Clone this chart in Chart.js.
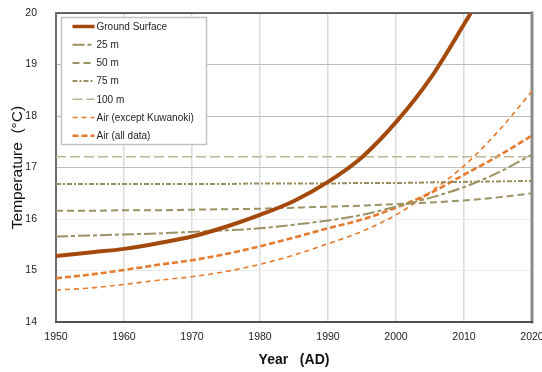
<!DOCTYPE html>
<html>
<head>
<meta charset="utf-8">
<script src="https://cdn.jsdelivr.net/npm/chart.js@4.4.1/dist/chart.umd.min.js"></script>
<style>
  html, body { margin: 0; padding: 0; background: #ffffff; }
  #wrap { width: 542px; height: 372px; }
</style>
</head>
<body>
<div id="wrap"><canvas id="chart" width="542" height="372"></canvas></div>
<script>
// Years shared by the subsurface and air series
const years = [1950, 1955, 1960, 1965, 1970, 1975, 1980, 1985, 1990, 1995, 2000, 2005, 2010, 2015, 2020];

// Ground surface temperature reaches the 20 °C ceiling around 2011
const groundYears   = [1950, 1955, 1960, 1965, 1970, 1975, 1980, 1985, 1990, 1995, 2000, 2005, 2010, 2011];
const groundSurface = [15.28, 15.35, 15.42, 15.53, 15.66, 15.85, 16.08, 16.35, 16.72, 17.20, 17.88, 18.72, 19.78, 20.00];

// Subsurface temperatures by depth (°C)
const depth25  = [15.66, 15.68, 15.70, 15.72, 15.75, 15.78, 15.82, 15.89, 15.97, 16.08, 16.24, 16.41, 16.62, 16.90, 17.25];
const depth50  = [16.16, 16.16, 16.17, 16.17, 16.18, 16.19, 16.20, 16.22, 16.24, 16.26, 16.29, 16.32, 16.36, 16.42, 16.50];
const depth75  = [16.68, 16.68, 16.68, 16.68, 16.68, 16.68, 16.69, 16.69, 16.69, 16.70, 16.70, 16.71, 16.72, 16.73, 16.74];
const depth100 = [17.21, 17.21, 17.21, 17.21, 17.21, 17.21, 17.21, 17.21, 17.21, 17.21, 17.21, 17.21, 17.21, 17.21, 17.21];

// Air temperature trends (°C)
const airExceptKuwanoki = [14.62, 14.66, 14.73, 14.81, 14.88, 14.98, 15.12, 15.30, 15.52, 15.76, 16.08, 16.52, 17.03, 17.70, 18.48];
const airAllData        = [14.85, 14.92, 15.01, 15.11, 15.20, 15.32, 15.47, 15.64, 15.82, 15.99, 16.22, 16.50, 16.86, 17.22, 17.62];

const seriesLabels = ['Ground Surface', '25 m', '50 m', '75 m', '100 m', 'Air (except Kuwanoki)', 'Air (all data)'];
const yearTicks = [1950, 1960, 1970, 1980, 1990, 2000, 2010, 2020];
const tempTicks = [14, 15, 16, 17, 18, 19, 20];

const FONT = '"Liberation Sans", Arial, sans-serif';

const toPoints = (xs, ys) => xs.map((x, i) => ({ x: x, y: ys[i] }));

const styles = [
  { color: '#A3490C', width: 4,   dash: [] },
  { color: '#9C9263', width: 2,   dash: [12, 3, 4, 3] },
  { color: '#9C9263', width: 2,   dash: [7, 4] },
  { color: '#9A8F5C', width: 2,   dash: [5, 2, 2, 2] },
  { color: '#BDB593', width: 1.5, dash: [10, 4] },
  { color: '#E8792A', width: 1.6, dash: [5, 4] },
  { color: '#E67A2E', width: 2.6, dash: [6, 3] }
];

const seriesData = [
  toPoints(groundYears, groundSurface),
  toPoints(years, depth25),
  toPoints(years, depth50),
  toPoints(years, depth75),
  toPoints(years, depth100),
  toPoints(years, airExceptKuwanoki),
  toPoints(years, airAllData)
];

const datasets = seriesLabels.map((label, i) => ({
  label: label,
  data: seriesData[i],
  borderColor: styles[i].color,
  backgroundColor: styles[i].color,
  borderWidth: styles[i].width,
  borderDash: styles[i].dash,
  pointRadius: 0,
  fill: false,
  cubicInterpolationMode: 'monotone'
}));

// Frame around the plotting area
const framePlugin = {
  id: 'frame',
  beforeDatasetsDraw(chart) {
    const { ctx, chartArea: a } = chart;
    ctx.save();
    ctx.lineCap = 'square';
    ctx.strokeStyle = '#3a3a3a'; ctx.lineWidth = 1.5;
    ctx.beginPath(); ctx.moveTo(a.left, a.top); ctx.lineTo(a.right, a.top); ctx.stroke();
    ctx.strokeStyle = '#8a8a8a'; ctx.lineWidth = 3;
    ctx.beginPath(); ctx.moveTo(a.right, a.top); ctx.lineTo(a.right, a.bottom); ctx.stroke();
    ctx.strokeStyle = '#6e6e6e'; ctx.lineWidth = 2;
    ctx.beginPath(); ctx.moveTo(a.left, a.top); ctx.lineTo(a.left, a.bottom); ctx.stroke();
    ctx.strokeStyle = '#505050'; ctx.lineWidth = 2;
    ctx.beginPath(); ctx.moveTo(a.left, a.bottom); ctx.lineTo(a.right, a.bottom); ctx.stroke();
    ctx.restore();
  }
};

// Boxed legend in the upper-left corner of the plot
const insetLegend = {
  id: 'insetLegend',
  afterDraw(chart) {
    const { ctx, chartArea: a } = chart;
    const bx = a.left + 5.5, by = a.top + 4.5, bw = 145, bh = 127;
    ctx.save();
    ctx.fillStyle = '#ffffff';
    ctx.fillRect(bx, by, bw, bh);
    ctx.strokeStyle = '#c2c2c2';
    ctx.lineWidth = 1.5;
    ctx.strokeRect(bx, by, bw, bh);
    ctx.font = '10px ' + FONT;
    ctx.textBaseline = 'middle';
    ctx.textAlign = 'left';
    chart.data.datasets.forEach((ds, i) => {
      const y = by + 9 + i * 18.2;
      ctx.strokeStyle = ds.borderColor;
      ctx.lineWidth = Math.min(ds.borderWidth, 3.5);
      ctx.setLineDash(ds.borderDash || []);
      ctx.beginPath();
      ctx.moveTo(bx + 11, y);
      ctx.lineTo(bx + 33, y);
      ctx.stroke();
      ctx.setLineDash([]);
      ctx.fillStyle = '#1e1e1e';
      ctx.fillText(ds.label, bx + 35, y + 0.5);
    });
    ctx.restore();
  }
};

new Chart(document.getElementById('chart'), {
  type: 'line',
  data: { datasets: datasets },
  plugins: [framePlugin, insetLegend],
  options: {
    responsive: false,
    animation: false,
    layout: { padding: { top: 13, right: 10, left: 0, bottom: 0 } },
    plugins: {
      legend: { display: false },
      tooltip: { enabled: false }
    },
    scales: {
      x: {
        type: 'linear',
        min: 1950,
        max: 2020,
        afterBuildTicks: s => { s.ticks = yearTicks.map(v => ({ value: v })); },
        afterFit: s => { s.paddingLeft = 0; s.paddingRight = 0; s.height = 50; },
        grid: { color: '#dcdcdc', lineWidth: 1.5, drawTicks: false },
        border: { display: false },
        ticks: {
          padding: 9,
          color: '#222222',
          font: { family: FONT, size: 10.5 },
          callback: v => String(v),
          maxRotation: 0,
          autoSkip: false
        },
        title: {
          display: true,
          text: 'Year   (AD)',
          color: '#111111',
          font: { family: FONT, size: 14, weight: 'bold' },
          padding: { top: 0, bottom: 3.6 }
        }
      },
      y: {
        type: 'linear',
        min: 14,
        max: 20,
        afterBuildTicks: s => { s.ticks = tempTicks.map(v => ({ value: v })); },
        afterFit: s => { s.width = 56; s.paddingTop = 0; s.paddingBottom = 0; },
        grid: {
          color: c => (c.tick && c.tick.value >= 17) ? '#bdbdbd' : '#ececec',
          lineWidth: 1,
          drawTicks: false
        },
        border: { display: false },
        ticks: {
          padding: 19,
          color: '#222222',
          font: { family: FONT, size: 10.5 },
          callback: v => String(v)
        },
        title: {
          display: true,
          text: 'Temperature  (°C)',
          color: '#111111',
          font: { family: FONT, size: 15.5 },
          padding: { top: 8.5, bottom: 0 }
        }
      }
    }
  }
});
</script>
</body>
</html>
